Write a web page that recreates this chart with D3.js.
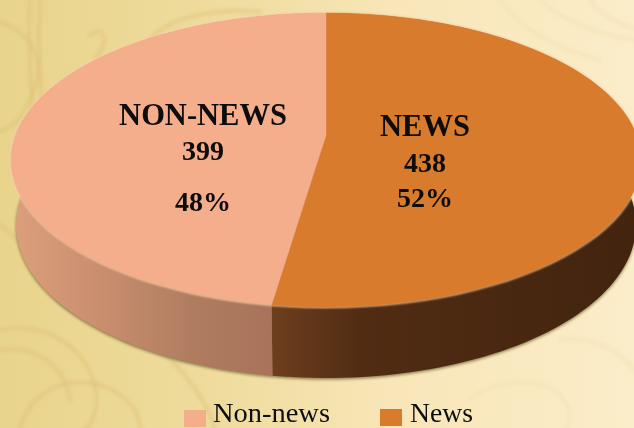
<!DOCTYPE html>
<html>
<head>
<meta charset="utf-8">
<script src="https://cdnjs.cloudflare.com/ajax/libs/d3/7.8.5/d3.min.js"></script>
<style>
html, body { margin: 0; padding: 0; overflow: hidden; }
svg { display: block; }
text { font-family: "Liberation Serif", serif; fill: #0d0d0d; }
</style>
</head>
<body>
<div id="chart"></div>
<script>
// values
var categories = ["News", "Non-news"];
var values = [438, 399];
var labels = ["NEWS", "NON-NEWS"];
var colors = ["#d97b2d", "#f5ae8c"];
var legendOrder = ["Non-news", "News"];

var width = 634, height = 428;

// tilted disc: k moves the centre of the pie up, like the perspective of the reference
var topFace = {cx: 326, cy: 160, rx: 315, ry: 147};
var bottomFace = {cx: 326, cy: 225, rx: 310, ry: 153};
var k = -0.17, s = Math.sqrt(1 - k * k);

function project(a, face) {
  var u = Math.sin(a), v = -Math.cos(a), w = 1 + k * v;
  return [face.cx + face.rx * u * s / w, face.cy + face.ry * (v + k) / w];
}

function arcPoints(d, face) {
  var n = 120;
  return d3.range(n + 1).map(function(i) {
    return project(d.startAngle + (d.endAngle - d.startAngle) * i / n, face);
  });
}

var svg = d3.select("#chart").append("svg")
  .attr("width", width)
  .attr("height", height);

var defs = svg.append("defs");

function gradient(id, stops, x1, x2) {
  var g = defs.append("linearGradient")
    .attr("id", id)
    .attr("gradientUnits", "userSpaceOnUse")
    .attr("x1", x1).attr("x2", x2).attr("y1", 0).attr("y2", 0);
  stops.forEach(function(st) {
    g.append("stop").attr("offset", st[0]).attr("stop-color", st[1]);
  });
}

gradient("bg", [[0, "#e9d48c"], [0.35, "#efdc9e"], [0.62, "#f8e6b8"], [1, "#fbedc9"]], 0, width);
gradient("wall0", [[0, "#6e3f1e"], [0.25, "#512c13"], [1, "#42240f"]], 270, 634);
gradient("wall1", [[0, "#dc9f7c"], [0.3, "#cb9070"], [0.7, "#b07c60"], [1, "#a8735a"]], 14, 270);

defs.append("filter").attr("id", "blur")
  .append("feGaussianBlur").attr("stdDeviation", 1.6);
defs.append("filter").attr("id", "soft")
  .append("feGaussianBlur").attr("stdDeviation", 1.2);
defs.append("filter").attr("id", "paper")
  .append("feGaussianBlur").attr("stdDeviation", 1.5);

// background
svg.append("rect").attr("width", width).attr("height", height).attr("fill", "url(#bg)");

// faint ornament of the paper
var swirls = [
  "M-5,20 C30,30 50,60 30,100 C20,125 0,135 -5,130",
  "M40,0 C38,60 40,120 55,180",
  "M30,-5 C28,50 30,110 42,170",
  "M0,330 C40,320 85,345 95,385 C100,410 90,428 85,428",
  "M0,350 C35,345 65,365 70,400",
  "M0,225 C25,240 55,290 130,330 C170,350 205,395 215,428",
  "M20,428 C30,395 60,375 100,385 C130,395 140,415 140,428",
  "M150,40 C170,15 220,8 260,12",
  "M95,60 C110,40 105,25 90,35",
  "M500,0 C520,30 560,50 600,60",
  "M540,0 C560,20 600,35 634,40",
  "M590,0 C600,15 620,25 634,28",
  "M470,400 C490,380 540,375 560,395 C575,410 570,428 565,428",
  "M560,340 C590,335 620,350 634,370"
];
svg.append("g")
  .attr("filter", "url(#paper)")
  .selectAll("path")
  .data(swirls)
  .enter().append("path")
  .attr("d", function(d) { return d; })
  .attr("fill", "none")
  .attr("stroke", function(d, i) { return i < 9 ? "#dcbc74" : "#f3dcae"; })
  .attr("stroke-width", 5)
  .attr("stroke-linecap", "round")
  .attr("opacity", 0.35);

var pie = d3.pie().sort(null).value(function(d) { return d; });
var slices = pie(values);
var line = d3.line();

// shadow under the disc
svg.append("path")
  .attr("d", line(arcPoints({startAngle: Math.PI * 0.38, endAngle: Math.PI * 1.62}, bottomFace)
    .map(function(p) { return [p[0], p[1] + 1.5]; })) + "Z")
  .attr("fill", "#6b5a2c")
  .attr("opacity", 0.75)
  .attr("filter", "url(#blur)");

// side walls
svg.append("g").selectAll("path")
  .data(slices)
  .enter().append("path")
  .attr("d", function(d) {
    return line(arcPoints(d, topFace).concat(arcPoints(d, bottomFace).reverse())) + "Z";
  })
  .attr("fill", function(d, i) { return "url(#wall" + i + ")"; });

// top faces
function facePath(d) {
  var apex = [topFace.cx, topFace.cy + topFace.ry * k];
  return line([apex].concat(arcPoints(d, topFace))) + "Z";
}

// thin light rim at the edge of the top
svg.append("path")
  .attr("d", line(arcPoints({startAngle: 0, endAngle: 2 * Math.PI}, topFace)) + "Z")
  .attr("fill", "none")
  .attr("stroke", "#f6cfa8")
  .attr("stroke-width", 2)
  .attr("filter", "url(#soft)");

svg.append("g").selectAll("path")
  .data(slices)
  .enter().append("path")
  .attr("d", facePath)
  .attr("fill", function(d, i) { return colors[i]; })
  .attr("stroke", function(d, i) { return colors[i]; })
  .attr("stroke-width", 0.5);

// labels on the slices
var total = d3.sum(values);
var labelX = [425, 203];
var nameY = [136, 125], valueY = [172, 160], pctY = [207, 211];

var lab = svg.append("g").selectAll("g")
  .data(categories)
  .enter().append("g")
  .attr("text-anchor", "middle")
  .attr("font-weight", "bold");

lab.append("text")
  .attr("x", function(d, i) { return labelX[i]; })
  .attr("y", function(d, i) { return nameY[i]; })
  .attr("font-size", 30.5)
  .text(function(d, i) { return labels[i]; });
lab.append("text")
  .attr("x", function(d, i) { return labelX[i]; })
  .attr("y", function(d, i) { return valueY[i]; })
  .attr("font-size", 28)
  .text(function(d, i) { return values[i]; });
lab.append("text")
  .attr("x", function(d, i) { return labelX[i]; })
  .attr("y", function(d, i) { return pctY[i]; })
  .attr("font-size", 28)
  .text(function(d, i) { return d3.format(".0%")(values[i] / total); });

// legend
var legendX = d3.scaleOrdinal().domain(legendOrder).range([184, 380]);
var legend = svg.append("g").selectAll("g")
  .data(legendOrder)
  .enter().append("g")
  .attr("transform", function(d) { return "translate(" + legendX(d) + ",0)"; });

legend.append("rect")
  .attr("y", function(d, i) { return 410 - i; })
  .attr("width", 22)
  .attr("height", 17)
  .attr("fill", function(d) { return colors[categories.indexOf(d)]; });

legend.append("text")
  .attr("x", function(d, i) { return i ? 30 : 29; })
  .attr("y", 422)
  .attr("font-size", 27.5)
  .attr("textLength", function(d, i) { return i ? 63 : 117; })
  .attr("lengthAdjust", "spacingAndGlyphs")
  .text(function(d) { return d; });
</script>
</body>
</html>
